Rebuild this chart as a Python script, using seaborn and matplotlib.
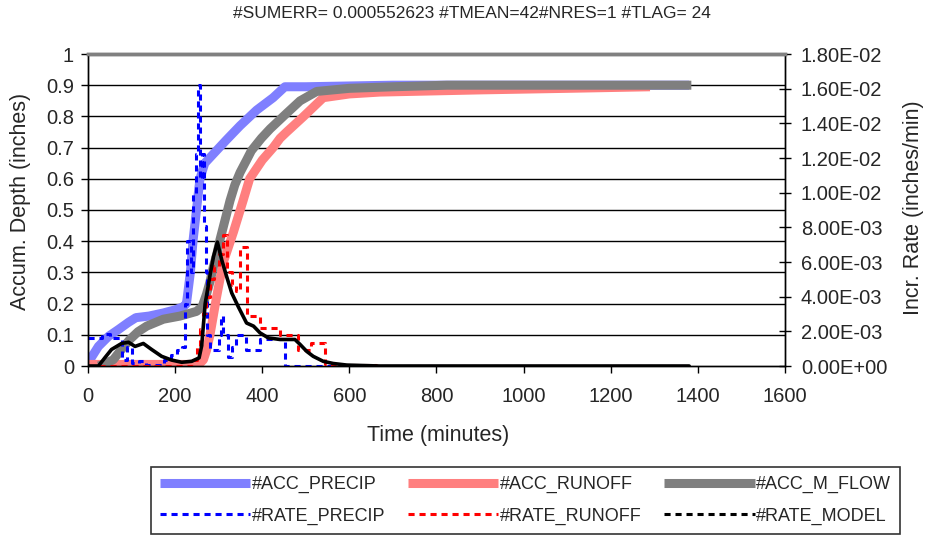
import numpy as np
import pandas as pd
import matplotlib
matplotlib.use("Agg")
import matplotlib.pyplot as plt
import seaborn as sns
from matplotlib.lines import Line2D
from matplotlib.ticker import FuncFormatter, MultipleLocator

sns.set_style("white")
plt.rcParams['font.family'] = ['Liberation Sans', 'DejaVu Sans']

TITLE = "#SUMERR= 0.000552623 #TMEAN=42#NRES=1 #TLAG= 24"

# ---- accumulated depths (inches), left axis ----
acc_precip_t = [0, 24, 47, 70, 93, 110, 140, 173, 200, 219, 226, 235, 241, 249, 257, 268,
                288, 318, 349, 387, 425, 452, 500, 700, 1380]
acc_precip_v = [0.01, 0.063, 0.095, 0.117, 0.14, 0.155, 0.16, 0.17, 0.18, 0.19, 0.2, 0.3, 0.4,
                0.5, 0.6, 0.65, 0.68, 0.725, 0.77, 0.82, 0.86, 0.895, 0.895, 0.9, 0.9]

acc_runoff_t = [0, 240, 258, 265, 272, 280, 295, 310, 322, 334, 356, 371, 400, 425, 441, 456,
                495, 540, 600, 670, 900, 1100, 1290]
acc_runoff_v = [0.005, 0.005, 0.01, 0.02, 0.05, 0.1, 0.22, 0.33, 0.38, 0.43, 0.53, 0.6, 0.66,
                0.7, 0.73, 0.75, 0.8, 0.86, 0.872, 0.878, 0.885, 0.89, 0.895]

acc_mflow_t = [24, 35, 58, 75, 96, 115, 135, 173, 211, 249, 262, 272, 280, 288, 296, 303, 315,
               326, 337, 349, 364, 375, 398, 418, 437, 456, 487, 525, 600, 700, 824, 1385]
acc_mflow_v = [0.0, 0.005, 0.02, 0.05, 0.085, 0.11, 0.128, 0.15, 0.16, 0.175, 0.19, 0.23, 0.27,
               0.32, 0.36, 0.405, 0.47, 0.53, 0.58, 0.62, 0.66, 0.69, 0.73, 0.76, 0.785, 0.81,
               0.85, 0.88, 0.89, 0.895, 0.9, 0.9]

# ---- incremental rates (inches/min), right axis ----
rate_precip_t = [0, 31, 50, 77, 90, 100, 118, 132, 175, 190, 205, 215, 222, 228, 236, 242, 248,
                 252, 257, 262, 266, 270, 274, 280, 300, 306, 310, 322, 330, 340, 363, 394, 452, 1380]
rate_precip_v = [0.00162, 0.00187, 0.00162, 0.00036, 0.00108, 0.00018, 0.00027, 0.000054,
                 0.00036, 0.00063, 0.0009, 0.00108, 0.0036, 0.0072, 0.0054, 0.0099, 0.01224,
                 0.0162, 0.0108, 0.01224, 0.0081, 0.0054, 0.0018, 0.0009, 0.0018, 0.00288,
                 0.0018, 0.00054, 0.00108, 0.0018, 0.0009, 0.00153, 0.0, 0.0]

rate_runoff_t = [0, 240, 250, 258, 265, 272, 280, 290, 300, 310, 320, 330, 340, 350, 364, 395,
                 440, 483, 513, 544, 560, 660, 1380]
rate_runoff_v = [0.0, 0.00036, 0.00108, 0.00216, 0.00306, 0.00396, 0.00504, 0.00576, 0.00648,
                 0.00756, 0.0054, 0.00468, 0.00432, 0.00684, 0.00288, 0.00221, 0.0018, 0.00095,
                 0.00135, 0.000144, 0.000072, 0.0, 0.0]

rate_model_t = [0, 24, 39, 54, 77, 93, 108, 127, 146, 169, 192, 215, 238, 255, 261, 269, 280,
                288, 297, 307, 318, 330, 345, 364, 380, 395, 414, 441, 475, 487, 502, 517, 540,
                563, 594, 670, 1380]
rate_model_v = [0.0, 0.0, 0.000486, 0.000954, 0.0013, 0.00137, 0.00113, 0.0013, 0.000954,
                0.000558, 0.000342, 0.000216, 0.00027, 0.000468, 0.00117, 0.0036, 0.00522,
                0.0063, 0.00715, 0.00612, 0.00518, 0.00421, 0.00342, 0.00248, 0.0023, 0.00191,
                0.00162, 0.00153, 0.00153, 0.00124, 0.000846, 0.000558, 0.00027, 0.000144,
                0.000054, 0.0, 0.0]

C_ACC_P, C_ACC_R, C_ACC_M = "#7f7fff", "#ff7f7f", "#7f7f7f"
C_RATE_P, C_RATE_R, C_RATE_M = "#0000ff", "#ff0000", "#000000"

fig = plt.figure(figsize=(9.29, 5.37), dpi=100)
W, H = 929, 537
ax = fig.add_axes([88 / W, 1 - 366 / H, (785 - 88) / W, (366 - 54) / H])
ax2 = ax.twinx()

# grid lines
for gy in np.arange(0.1, 0.95, 0.1):
    ax.axhline(gy, color="black", lw=1.0, zorder=0)

acc_lw = 6.5
dash = (0, (2, 1.6))
sns.lineplot(x=acc_precip_t, y=acc_precip_v, ax=ax, color=C_ACC_P, lw=acc_lw, sort=False,
             legend=False, solid_capstyle="butt")
sns.lineplot(x=acc_runoff_t, y=acc_runoff_v, ax=ax, color=C_ACC_R, lw=acc_lw, sort=False,
             legend=False, solid_capstyle="butt")
sns.lineplot(x=acc_mflow_t, y=acc_mflow_v, ax=ax, color=C_ACC_M, lw=acc_lw, sort=False,
             legend=False, solid_capstyle="butt")

sns.lineplot(x=rate_precip_t, y=rate_precip_v, ax=ax2, color=C_RATE_P, lw=2.2, sort=False,
             legend=False, drawstyle="steps-post", linestyle=dash)
sns.lineplot(x=rate_runoff_t, y=rate_runoff_v, ax=ax2, color=C_RATE_R, lw=2.2, sort=False,
             legend=False, drawstyle="steps-post", linestyle=dash)
sns.lineplot(x=rate_model_t, y=rate_model_v, ax=ax2, color=C_RATE_M, lw=2.6, sort=False,
             legend=False)

ax.set_xlim(0, 1600)
ax.set_ylim(0, 1)
ax2.set_ylim(0, 0.018)
ax.xaxis.set_major_locator(MultipleLocator(200))
ax.yaxis.set_major_locator(MultipleLocator(0.1))
ax2.yaxis.set_major_locator(MultipleLocator(0.002))
ax.yaxis.set_major_formatter(FuncFormatter(lambda v, p: f"{round(v, 1):g}"))
ax2.yaxis.set_major_formatter(FuncFormatter(lambda v, p: f"{v:.2E}"))

fs_tick = 14.5
fs_lab = 15.5
ax.tick_params(axis="x", direction="out", length=5, width=1, labelsize=fs_tick, pad=10,
               bottom=True, color="black")
ax.tick_params(axis="y", direction="out", length=5, width=1, labelsize=fs_tick, pad=5,
               left=True, color="black")
ax2.tick_params(axis="y", direction="inout", length=8, width=1, labelsize=fs_tick, pad=7.5,
                right=True, color="black")

for a in (ax, ax2):
    a.spines["top"].set_color("#808080")
    a.spines["top"].set_linewidth(2.5)
    for s in ("left", "right", "bottom"):
        a.spines[s].set_color("black")
        a.spines[s].set_linewidth(1.0)

ax.set_xlabel("Time (minutes)", fontsize=fs_lab)
ax.set_ylabel("Accum. Depth (inches)", fontsize=fs_lab)
ax2.set_ylabel("Incr. Rate (inches/min)", fontsize=fs_lab)
ax.xaxis.label.set_va("center")
ax.yaxis.label.set_va("center")
ax2.yaxis.label.set_va("center")
ax.xaxis.set_label_coords((438 - 88) / 697, (366 - 435) / 312)
ax.yaxis.set_label_coords((21 - 88) / 697, (366 - 201) / 312)
ax2.yaxis.set_label_coords((914 - 88) / 697, (366 - 208) / 312)

fig.text(471.5 / W, 1 - 14 / H, TITLE, ha="center", va="center", fontsize=12.5)

handles = [
    Line2D([], [], color=C_ACC_P, lw=acc_lw, solid_capstyle="butt"),
    Line2D([], [], color=C_RATE_P, lw=2.2, linestyle=dash),
    Line2D([], [], color=C_ACC_R, lw=acc_lw, solid_capstyle="butt"),
    Line2D([], [], color=C_RATE_R, lw=2.2, linestyle=dash),
    Line2D([], [], color=C_ACC_M, lw=acc_lw, solid_capstyle="butt"),
    Line2D([], [], color=C_RATE_M, lw=2.2, linestyle=dash),
]
labels = ["#ACC_PRECIP", "#RATE_PRECIP", "#ACC_RUNOFF", "#RATE_RUNOFF", "#ACC_M_FLOW",
          "#RATE_MODEL"]
leg = fig.legend(handles, labels, loc="upper center", bbox_to_anchor=(525.5 / W, 1 - 467 / H),
                 ncol=3, fontsize=13, frameon=True, fancybox=False, edgecolor="black",
                 handlelength=5.0, handletextpad=0.1, columnspacing=1.25, borderpad=0.5,
                 labelspacing=0.8, borderaxespad=0)
leg.get_frame().set_linewidth(1.2)

fig.savefig("out.png", dpi=100, facecolor="white")
